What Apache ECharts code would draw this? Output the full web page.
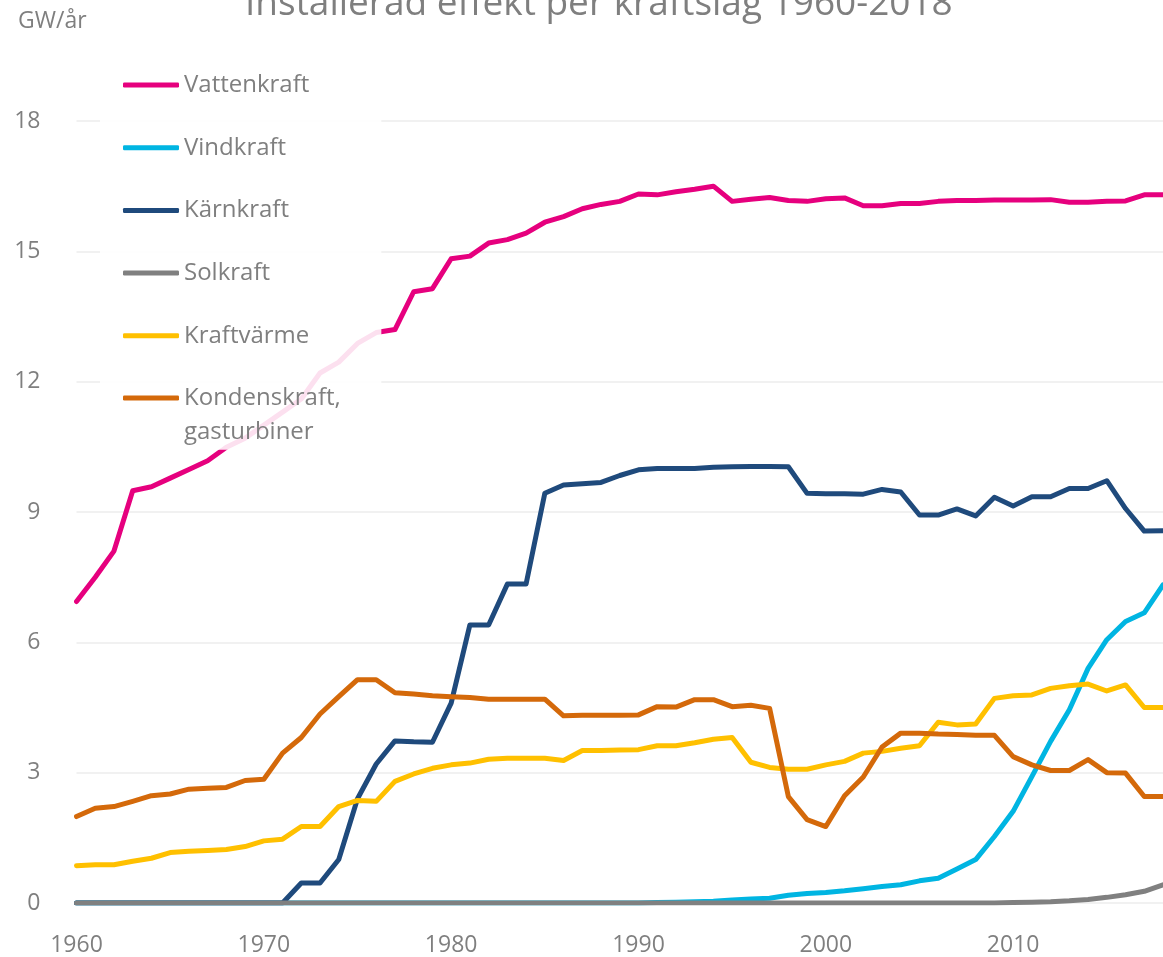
<!DOCTYPE html>
<html>
<head>
<meta charset="utf-8">
<title>Installerad effekt per kraftslag</title>
<script src="https://cdn.jsdelivr.net/npm/echarts@6/dist/echarts.min.js"></script>
<style>
  html, body { margin: 0; padding: 0; background: #ffffff; }
  #char1 { width: 1163px; height: 957px; }
</style>
</head>
<body>
<div id="char1"></div>
<script>
var years = ['1960', '1961', '1962', '1963', '1964', '1965', '1966', '1967', '1968', '1969',
    '1970', '1971', '1972', '1973', '1974', '1975', '1976', '1977', '1978', '1979',
    '1980', '1981', '1982', '1983', '1984', '1985', '1986', '1987', '1988', '1989',
    '1990', '1991', '1992', '1993', '1994', '1995', '1996', '1997', '1998', '1999',
    '2000', '2001', '2002', '2003', '2004', '2005', '2006', '2007', '2008', '2009',
    '2010', '2011', '2012', '2013', '2014', '2015', '2016', '2017', '2018'];

// GW per year, 1960-2018
var vattenkraft = [6.94, 7.5, 8.1, 9.49, 9.58, 9.78, 9.98, 10.18, 10.49, 10.7,
    11.0, 11.3, 11.6, 12.2, 12.45, 12.88, 13.13, 13.2, 14.07, 14.14,
    14.83, 14.89, 15.19, 15.27, 15.42, 15.67, 15.8, 15.98, 16.08, 16.15,
    16.32, 16.3, 16.37, 16.43, 16.5, 16.15, 16.2, 16.24, 16.17, 16.15,
    16.21, 16.23, 16.05, 16.05, 16.1, 16.1, 16.15, 16.17, 16.17, 16.18,
    16.18, 16.18, 16.19, 16.13, 16.13, 16.15, 16.16, 16.3, 16.3];
var vindkraft = [0, 0, 0, 0, 0, 0, 0, 0, 0, 0,
    0, 0, 0, 0, 0, 0, 0, 0, 0, 0,
    0, 0, 0, 0, 0, 0, 0, 0, 0, 0,
    0, 0.01, 0.02, 0.03, 0.04, 0.07, 0.09, 0.11, 0.18, 0.22,
    0.24, 0.28, 0.33, 0.38, 0.42, 0.51, 0.57, 0.78, 1.0, 1.53,
    2.11, 2.91, 3.72, 4.45, 5.4, 6.06, 6.48, 6.68, 7.32];
var karnkraft = [0, 0, 0, 0, 0, 0, 0, 0, 0, 0,
    0, 0, 0.46, 0.46, 1.0, 2.4, 3.2, 3.73, 3.71, 3.7,
    4.6, 6.4, 6.4, 7.34, 7.34, 9.43, 9.62, 9.65, 9.68, 9.84,
    9.97, 10.0, 10.0, 10.0, 10.03, 10.04, 10.05, 10.05, 10.04, 9.43,
    9.42, 9.42, 9.41, 9.52, 9.46, 8.93, 8.93, 9.07, 8.91, 9.34,
    9.14, 9.35, 9.35, 9.54, 9.54, 9.72, 9.08, 8.56, 8.57];
var solkraft = [0, 0, 0, 0, 0, 0, 0, 0, 0, 0,
    0, 0, 0, 0, 0, 0, 0, 0, 0, 0,
    0, 0, 0, 0, 0, 0, 0, 0, 0, 0,
    0, 0, 0, 0, 0, 0, 0, 0, 0, 0,
    0, 0, 0, 0, 0, 0, 0, 0, 0, 0,
    0.01, 0.02, 0.03, 0.05, 0.08, 0.13, 0.19, 0.27, 0.42];
var kraftvarme = [0.86, 0.88, 0.88, 0.96, 1.03, 1.16, 1.19, 1.21, 1.23, 1.3,
    1.43, 1.47, 1.76, 1.76, 2.22, 2.36, 2.34, 2.8, 2.97, 3.1,
    3.18, 3.22, 3.31, 3.33, 3.33, 3.33, 3.28, 3.51, 3.51, 3.52,
    3.53, 3.62, 3.62, 3.69, 3.77, 3.81, 3.24, 3.12, 3.08, 3.08,
    3.18, 3.26, 3.45, 3.49, 3.56, 3.62, 4.16, 4.1, 4.12, 4.71,
    4.77, 4.79, 4.94, 5.0, 5.04, 4.88, 5.02, 4.5, 4.5];
var kondenskraft = [1.99, 2.18, 2.22, 2.34, 2.47, 2.51, 2.62, 2.64, 2.66, 2.82,
    2.85, 3.45, 3.81, 4.35, 4.75, 5.14, 5.14, 4.84, 4.81, 4.77,
    4.75, 4.73, 4.69, 4.69, 4.69, 4.69, 4.31, 4.32, 4.32, 4.32,
    4.33, 4.52, 4.51, 4.68, 4.68, 4.52, 4.55, 4.48, 2.45, 1.92,
    1.76, 2.47, 2.9, 3.59, 3.91, 3.91, 3.89, 3.88, 3.86, 3.86,
    3.37, 3.18, 3.05, 3.05, 3.3, 3.0, 2.99, 2.45, 2.45];

var seriesNames = ['Vattenkraft', 'Vindkraft', 'Kärnkraft', 'Solkraft', 'Kraftvärme', 'Kondenskraft, gasturbiner'];
var seriesColors = ['#e6007e', '#00b5e2', '#1f4a7c', '#808080', '#ffc000', '#d4690a'];
var seriesData = [vattenkraft, vindkraft, karnkraft, solkraft, kraftvarme, kondenskraft];

var yTicks = { min: 0, max: 18, interval: 3 };

var textGrey = '#7f7f7f';
var fontName = 'Open Sans';

function char1() {
    var myChart = echarts.init(document.getElementById('char1'));

    var series = [];
    for (var i = 0; i < seriesNames.length; i++) {
        series.push({
            name: seriesNames[i],
            type: 'line',
            data: seriesData[i],
            showSymbol: false,
            symbol: 'none',
            animation: false,
            lineStyle: {
                width: 5,
                color: seriesColors[i],
                cap: 'round',
                join: 'round'
            },
            itemStyle: { color: seriesColors[i] }
        });
    }

    var legendCommon = {
        orient: 'vertical',
        left: 100,
        icon: 'roundRect',
        itemWidth: 56,
        itemHeight: 5,
        itemTextGap: 3,
        selectedMode: false
    };

    var option = {
        backgroundColor: '#ffffff',
        textStyle: { fontFamily: fontName },
        title: {
            text: 'Installerad effekt per kraftslag 1960-2018',
            left: 240,
            top: -19,
            textStyle: {
                color: textGrey,
                fontSize: 37,
                fontWeight: 'normal',
                fontFamily: fontName
            }
        },
        graphic: [{
            type: 'text',
            x: 18,
            y: 21,
            style: {
                text: 'GW/år',
                font: '23px "Open Sans"',
                fill: textGrey,
                verticalAlign: 'middle'
            }
        }],
        legend: [
            // first five entries, the white box behind the whole legend
            Object.assign({}, legendCommon, {
                top: 52,
                padding: [20, 72, 101, 23],
                backgroundColor: 'rgba(255,255,255,0.88)',
                itemGap: 36.7,
                data: seriesNames.slice(0, 5),
                textStyle: {
                    color: textGrey,
                    fontSize: 24,
                    lineHeight: 26,
                    fontFamily: fontName
                }
            }),
            // two-line entry, first line level with the icon
            Object.assign({}, legendCommon, {
                top: 347,
                padding: [0, 0, 0, 23],
                data: seriesNames.slice(5),
                formatter: function () {
                    return '\nKondenskraft,\ngasturbiner';
                },
                textStyle: {
                    color: textGrey,
                    fontSize: 24,
                    lineHeight: 34,
                    fontFamily: fontName
                }
            })
        ],
        grid: {
            left: 76.5,
            right: -1,
            top: 121,
            bottom: 53.7,
            containLabel: false
        },
        xAxis: {
            type: 'category',
            boundaryGap: false,
            data: years,
            axisLine: { show: false },
            axisTick: { show: false },
            splitLine: { show: false },
            axisLabel: {
                interval: 9,
                margin: 31,
                color: textGrey,
                fontSize: 23,
                fontFamily: fontName
            }
        },
        yAxis: {
            type: 'value',
            min: yTicks.min,
            max: yTicks.max,
            interval: yTicks.interval,
            axisLine: { show: false },
            axisTick: { show: false },
            splitLine: {
                show: true,
                lineStyle: { color: '#ececec', width: 1.5 }
            },
            axisLabel: {
                margin: 36,
                color: textGrey,
                fontSize: 23,
                fontFamily: fontName
            }
        },
        series: series
    };

    myChart.setOption(option);
    window.addEventListener('resize', function () { myChart.resize(); });
}

char1();
</script>
</body>
</html>
